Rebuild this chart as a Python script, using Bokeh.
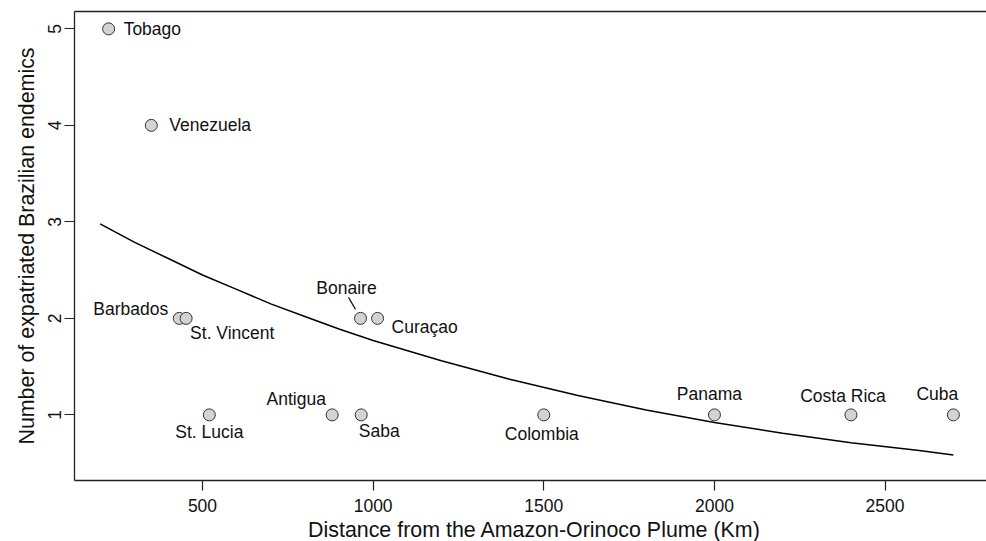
from bokeh.plotting import figure
from bokeh.layouts import column
from bokeh.models import Range1d, LinearAxis, FixedTicker
from bokeh.core.properties import value
from bokeh.embed import file_html
from bokeh.resources import INLINE

# ---- data ----
sites = ["Tobago", "Venezuela", "Barbados", "St. Vincent", "St. Lucia", "Antigua",
         "Saba", "Bonaire", "Curaçao", "Colombia", "Panama", "Costa Rica", "Cuba"]
distance_km = [225, 350, 432, 452, 520, 880, 965, 963, 1013, 1500, 2000, 2400, 2700]
endemics = [5, 4, 2, 2, 1, 1, 1, 2, 2, 1, 1, 1, 1]

# fitted curve
fit_distance = [200, 300, 400, 500, 600, 700, 800, 900, 1000, 1200, 1400, 1600,
                1800, 2000, 2200, 2400, 2600, 2700]
fit_endemics = [2.98, 2.79, 2.62, 2.45, 2.30, 2.15, 2.02, 1.89, 1.77, 1.56, 1.37,
                1.20, 1.05, 0.92, 0.81, 0.71, 0.63, 0.585]

x_ticks = [500, 1000, 1500, 2000, 2500]
y_ticks = [1, 2, 3, 4, 5]
x_title = "Distance from the Amazon-Orinoco Plume (Km)"
y_title = "Number of expatriated Brazilian endemics"

# ---- label placement (screen px offsets from each point) ----
label_style = {
    "Tobago":      ("left",   15,   0),
    "Venezuela":   ("left",   18,   0),
    "Barbados":    ("right", -11,  -9),
    "St. Vincent": ("left",    4,  15),
    "St. Lucia":   ("center",  0,  17),
    "Antigua":     ("center", -36, -16),
    "Saba":        ("center", 18,  16),
    "Bonaire":     ("center", -14, -30),
    "Curaçao":     ("left",   14,   9),
    "Colombia":    ("center", -2,  19),
    "Panama":      ("center", -5, -21),
    "Costa Rica":  ("center", -8, -19),
    "Cuba":        ("center", -16, -21),
}

FONT = "Liberation Sans"
W = 986
TITLE_H = 23
H = 541 - TITLE_H
BORDER_L, BORDER_T, BORDER_B = 74, 11, 38
FRAME_W = W - BORDER_L
FRAME_H = H - BORDER_T - BORDER_B
X0 = 125
X1 = X0 + FRAME_W / 0.3413
Y0, Y1 = 0.32, 5.18
px_x = (X1 - X0) / FRAME_W
px_y = (Y1 - Y0) / FRAME_H

p = figure(width=W, height=H, output_backend="svg", toolbar_location=None,
           x_range=Range1d(X0, X1), y_range=Range1d(Y0, Y1),
           min_border_left=BORDER_L, min_border_right=0, min_border_top=BORDER_T,
           min_border_bottom=BORDER_B, background_fill_color="white",
           border_fill_color="white")
p.outline_line_color = None
p.grid.visible = False

for ax in (p.xaxis[0], p.yaxis[0]):
    ax.axis_line_color = "#222222"
    ax.axis_line_width = 1.3
    ax.major_tick_line_color = "#222222"
    ax.major_tick_line_width = 1.2
    ax.major_tick_out = 10
    ax.major_tick_in = 0
    ax.minor_tick_line_color = None
    ax.major_label_text_font = FONT
    ax.major_label_text_font_size = "17.5px"
    ax.major_label_text_color = "#111111"
    ax.axis_label_text_font = FONT
    ax.axis_label_text_font_size = "21.4px"
    ax.axis_label_text_font_style = "normal"
    ax.axis_label_text_color = "#111111"

p.xaxis[0].ticker = FixedTicker(ticks=x_ticks)
p.yaxis[0].ticker = FixedTicker(ticks=y_ticks)
p.yaxis[0].axis_label = y_title
p.xaxis[0].major_label_standoff = 8
p.yaxis[0].major_label_orientation = "vertical"
p.yaxis[0].major_label_standoff = 3
p.yaxis[0].axis_label_standoff = 7

top = LinearAxis(ticker=FixedTicker(ticks=[]), major_label_text_font_size="0px",
                 major_tick_line_color=None, minor_tick_line_color=None,
                 major_label_standoff=0, axis_line_color="#222222", axis_line_width=1.3)
p.add_layout(top, "above")

# fitted curve
p.line(fit_distance, fit_endemics, line_color="black", line_width=1.5)

# points
p.scatter(distance_km, endemics, size=12, fill_color="#d3d3d3",
          line_color="#333333", line_width=1)

# labels
for s, xv, yv in zip(sites, distance_km, endemics):
    align, dx, dy = label_style[s]
    p.text(x=[xv], y=[yv], text=[s], x_offset=dx, y_offset=dy,
           text_align=align, text_baseline="middle",
           text_font=value(FONT), text_font_size="17.5px", text_color="#111111")

# leader line for Bonaire (pixel offsets converted to data units)
bx, by = distance_km[sites.index("Bonaire")], endemics[sites.index("Bonaire")]
p.segment(x0=[bx - 12 * px_x], y0=[by + 21 * px_y],
          x1=[bx - 5 * px_x], y1=[by + 9 * px_y],
          line_color="#111111", line_width=1.2)

# x-axis title strip; its frame is aligned with the main plot's frame
t = figure(width=W, height=TITLE_H, output_backend="svg", toolbar_location=None,
           x_range=Range1d(X0, X1), y_range=Range1d(0, TITLE_H),
           min_border_left=BORDER_L, min_border_right=0, min_border_top=0,
           min_border_bottom=0, x_axis_type=None, y_axis_type=None,
           background_fill_color="white", border_fill_color="white")
t.outline_line_color = None
t.grid.visible = False
t.text(x=[X0 + (FRAME_W / 2 + 4) * px_x], y=[TITLE_H / 2], text=[x_title],
       text_align="center", text_baseline="middle",
       text_font=value(FONT), text_font_size="21.4px", text_color="#111111")

layout = column(p, t, spacing=0)
open("out.html", "w").write(file_html(layout, INLINE))
